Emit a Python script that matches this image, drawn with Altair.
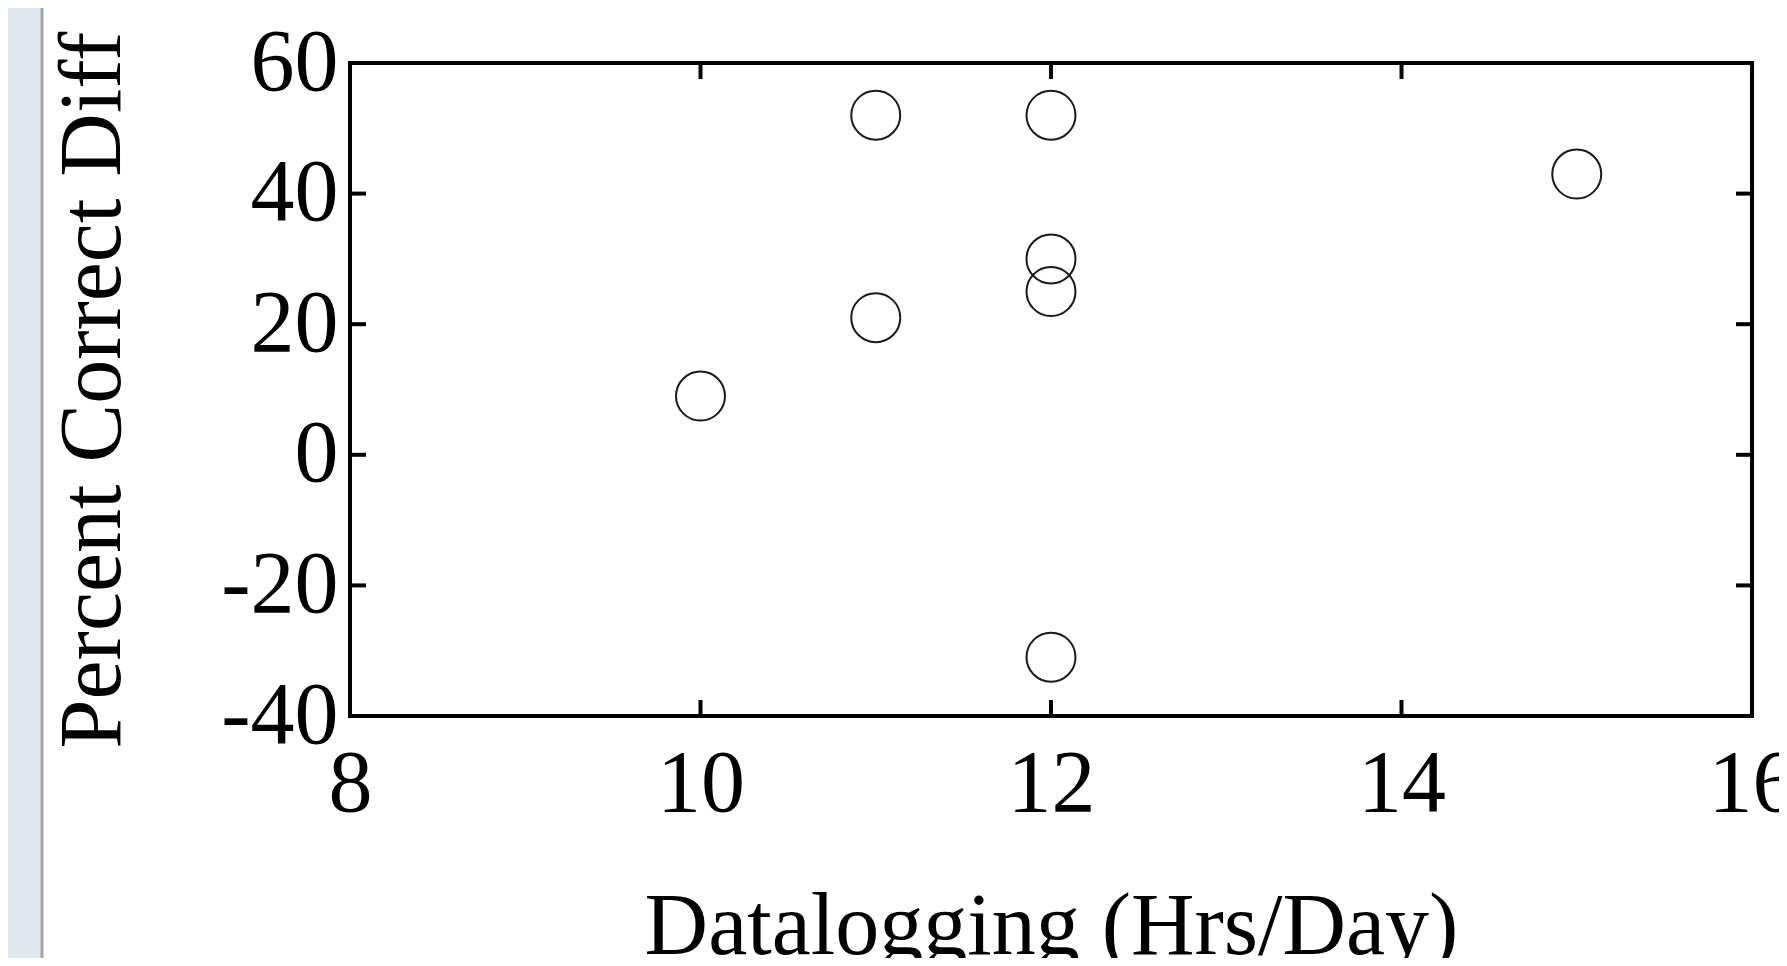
import altair as alt
import pandas as pd

# data
hours = [10, 11, 11, 12, 12, 12, 12, 15]
diff = [9, 52, 21, 52, 30, 25, -31, 43]
x_ticks = [8, 10, 12, 14, 16]
y_ticks = [-40, -20, 0, 20, 40, 60]

W, H = 1402, 653
TICK = 16
FONT = "Liberation Serif"
PAD = {"left": 342, "top": 55, "right": 27, "bottom": 242}

pts = pd.DataFrame({"hours": hours, "diff": diff})
xt = pd.DataFrame({"hours": x_ticks})
yt = pd.DataFrame({"diff": y_ticks})

xscale = alt.Scale(domain=[8, 16], nice=False, zero=False)
yscale = alt.Scale(domain=[-40, 60], nice=False, zero=False)
x_axis = alt.Axis(title="Datalogging (Hrs/Day)", values=x_ticks,
                  labelExpr="'' + datum.value",
                  labelPadding=24, titlePadding=55)
y_axis = alt.Axis(title="Percent Correct Diff", values=y_ticks,
                  labelExpr="'' + datum.value",
                  labelPadding=12, titlePadding=83)

points = alt.Chart(pts).mark_point(
    shape="circle", filled=False, size=2400, color="#1a1a1a", strokeWidth=2, opacity=1
).encode(
    x=alt.X("hours:Q", scale=xscale, axis=x_axis),
    y=alt.Y("diff:Q", scale=yscale, axis=y_axis),
)

bottom_ticks = alt.Chart(xt).mark_rule(color="black", strokeWidth=4).encode(
    x=alt.X("hours:Q", scale=xscale, axis=x_axis), y=alt.value(H), y2=alt.value(H - TICK))
top_ticks = alt.Chart(xt).mark_rule(color="black", strokeWidth=4).encode(
    x=alt.X("hours:Q", scale=xscale, axis=x_axis), y=alt.value(0), y2=alt.value(TICK))
left_ticks = alt.Chart(yt).mark_rule(color="black", strokeWidth=4).encode(
    y=alt.Y("diff:Q", scale=yscale, axis=y_axis), x=alt.value(0), x2=alt.value(TICK))
right_ticks = alt.Chart(yt).mark_rule(color="black", strokeWidth=4).encode(
    y=alt.Y("diff:Q", scale=yscale, axis=y_axis), x=alt.value(W), x2=alt.value(W - TICK))

# light side strip seen at the left edge of the reference
strip = alt.Chart(alt.Data(values=[{"k": 1}])).mark_rect(color="#DFE6EE").encode(
    x=alt.value(-PAD["left"]), x2=alt.value(-PAD["left"] + 35),
    y=alt.value(-PAD["top"]), y2=alt.value(H + PAD["bottom"]))
edge = alt.Chart(alt.Data(values=[{"k": 1}])).mark_rule(color="#A2A6AA", strokeWidth=3).encode(
    x=alt.value(-PAD["left"] + 34),
    y=alt.value(-PAD["top"]), y2=alt.value(H + PAD["bottom"]))

chart = alt.layer(
    points, bottom_ticks, top_ticks, left_ticks, right_ticks, strip, edge
).properties(
    width=W, height=H,
    autosize=alt.AutoSizeParams(type="none"),
    padding=PAD,
    background="white",
).configure_view(
    stroke="black", strokeWidth=4
).configure_axis(
    domain=False, ticks=False, tickSize=0, grid=False,
    labelFont=FONT, labelFontSize=88, labelColor="black",
    labelFlush=False, labelOverlap=False,
    titleFont=FONT, titleFontSize=88, titleFontWeight="normal", titleColor="black",
)

chart.save("out.html", embed_options={"renderer": "svg", "actions": False})
